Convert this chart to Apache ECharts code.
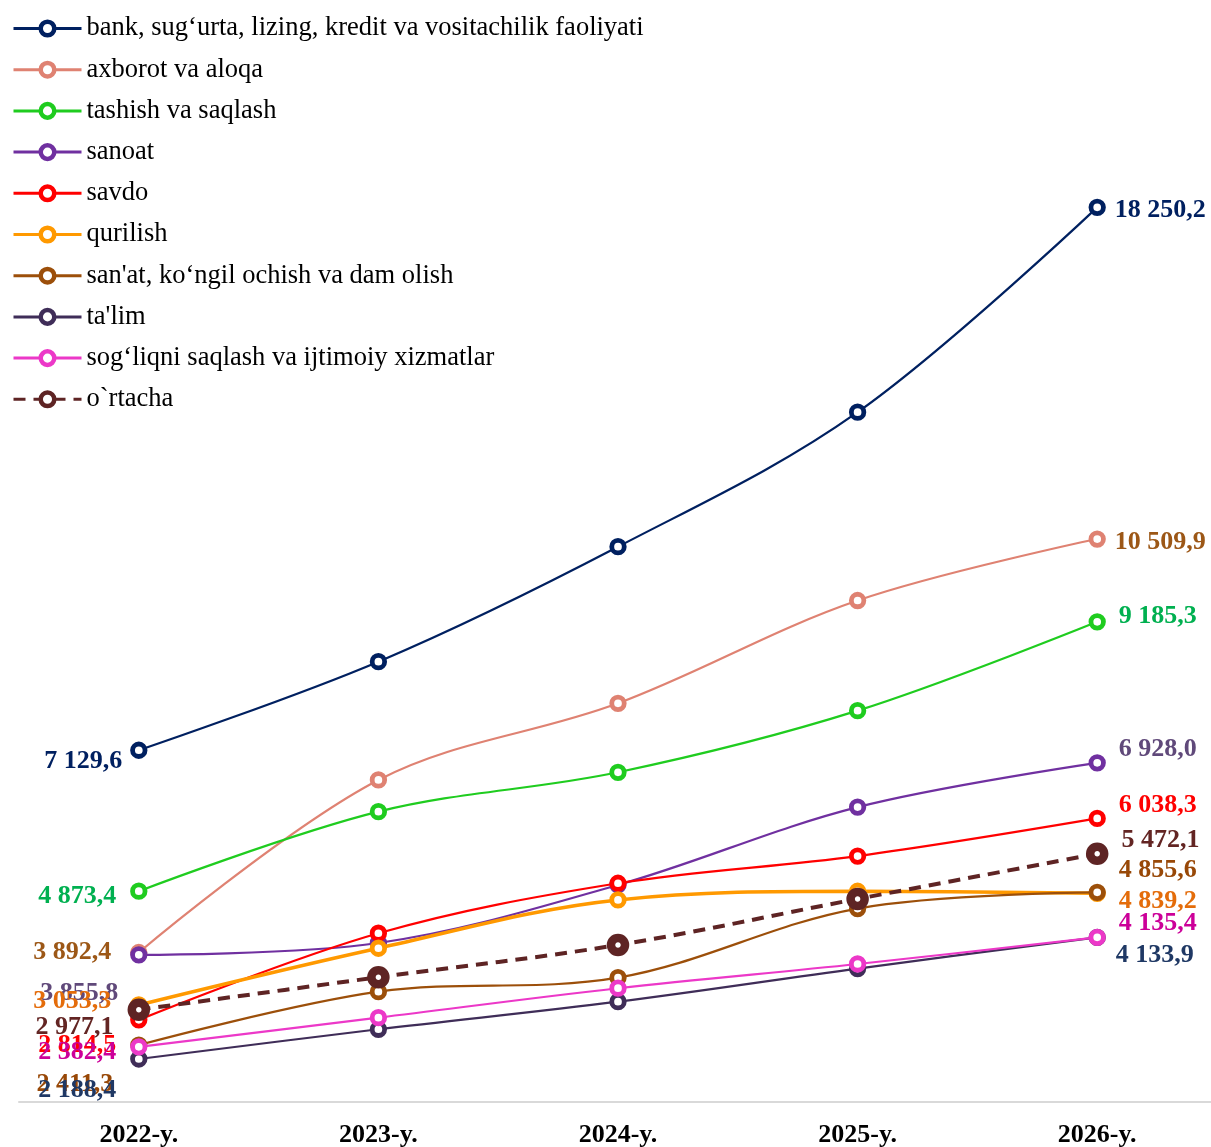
<!DOCTYPE html>
<html>
<head>
<meta charset="utf-8">
<script src="https://cdn.jsdelivr.net/npm/echarts@6/dist/echarts.min.js"></script>
<style>html,body{margin:0;padding:0;background:#fff;}#c{width:1211px;height:1147px;}</style>
</head>
<body>
<div id="c"></div>
<script>
// ---- data ----
const years = ['2022-y.', '2023-y.', '2024-y.', '2025-y.', '2026-y.'];
const seriesNames = [
  'bank, sug‘urta, lizing, kredit va vositachilik faoliyati',
  'axborot va aloqa',
  'tashish va saqlash',
  'sanoat',
  'savdo',
  'qurilish',
  "san'at, ko‘ngil ochish va dam olish",
  "ta'lim",
  'sog‘liqni saqlash va ijtimoiy xizmatlar',
  'o`rtacha'
];
const bank     = [7129.6, 8547, 10387, 12540, 15818];
const axborot  = [3892.4, 6654, 7881, 9526, 10509.9];
const tashish  = [4873.4, 6147, 6777, 7763, 9185.3];
const sanoat   = [3855.8, 4045, 4974, 6220, 6928.0];
const savdo    = [2814.5, 4201, 5001, 5436, 6038.3];
const qurilish = [3053.3, 3961, 4734, 4873, 4839.2];
const sanat    = [2411.3, 3266, 3490, 4596, 4855.6];
const talim    = [2188.4, 2664, 3106, 3636, 4133.9];
const sogliq   = [2382.4, 2850, 3321, 3709, 4135.4];
const ortacha  = [2977.1, 3497, 4013, 4750, 5472.1];
// printed data labels (first and last year), as shown on the chart
const labelsFirst = [7129.6, 3892.4, 4873.4, 3855.8, 2814.5, 3053.3, 2411.3, 2188.4, 2382.4, 2977.1];
const labelsLast  = [18250.2, 10509.9, 9185.3, 6928.0, 6038.3, 4839.2, 4855.6, 4133.9, 4135.4, 5472.1];

// ---- styles ----
const values = [bank, axborot, tashish, sanoat, savdo, qurilish, sanat, talim, sogliq, ortacha];
const lineColors = ['#002060', '#DF8272', '#1FCC1F', '#7030A0', '#FF0000', '#FF9900', '#9C4F0A', '#3F2D58', '#EC38C8', '#5E2424'];
const labelColors = ['#002060', '#9C5716', '#00B050', '#60497A', '#FF0000', '#E46C0A', '#984807', '#1F3864', '#CC0099', '#632523'];
const lineWidths = [2.2, 2.2, 2.2, 2.2, 2.2, 3.5, 2.2, 2.2, 2.2, 4];
const leftOffsets  = [[0, 11], [-11, 0], [-6, 5], [-4, 38], [-6, 25], [-11, -4], [-9, 39], [-6, 31], [-6, 5], [-6, 18]];
const rightOffsets = [[1, 3], [1, 3], [5, -6], [5, -14], [5, -13], [5, 8], [5, -22], [2, 18], [5, -14], [5, -14]];

const FONT = "'Liberation Serif', 'Times New Roman', serif";
function fmt(v) {
  const s = v.toFixed(1).split('.');
  return s[0].replace(/\B(?=(\d{3})+(?!\d))/g, ' ') + ',' + s[1];
}

const series = values.map((vals, i) => {
  const isAvg = i === values.length - 1;
  return {
    name: seriesNames[i],
    type: 'line',
    smooth: 0.35,
    symbol: 'circle',
    symbolSize: isAvg ? 14 : 12.5,
    z: 2 + i,
    lineStyle: { color: lineColors[i], width: lineWidths[i], type: isAvg ? [12, 8] : 'solid' },
    itemStyle: { color: '#ffffff', borderColor: lineColors[i], borderWidth: isAvg ? 8.5 : 4.8 },
    data: vals.map((v, j) => {
      const item = { value: v };
      if (j === 0 || j === vals.length - 1) {
        const first = j === 0;
        item.label = {
          show: true,
          position: first ? 'left' : 'right',
          distance: 8,
          offset: first ? leftOffsets[i] : rightOffsets[i],
          formatter: fmt(first ? labelsFirst[i] : labelsLast[i]),
          color: labelColors[i],
          fontFamily: FONT,
          fontWeight: 'bold',
          fontSize: 26
        };
      }
      return item;
    }),
    emphasis: { disabled: true },
    animation: false
  };
});

const chart = echarts.init(document.getElementById('c'));
chart.setOption({
  backgroundColor: '#ffffff',
  animation: false,
  legend: {
    orient: 'vertical',
    left: 12,
    top: 15,
    padding: 0,
    itemWidth: 68,
    itemHeight: 17,
    itemGap: 14.2,
    selectedMode: false,
    itemStyle: { borderWidth: 4.5 },
    lineStyle: { width: 3 },
    textStyle: { fontFamily: FONT, fontSize: 26.5, color: '#000', lineHeight: 26 },
    data: seriesNames
  },
  grid: { left: 19, width: 1198, top: 196, bottom: 45, outerBoundsMode: 'none', containLabel: false },
  xAxis: {
    type: 'category',
    data: years,
    boundaryGap: true,
    axisLine: { lineStyle: { color: '#D9D9D9', width: 2 } },
    axisTick: { show: false },
    axisLabel: { fontFamily: FONT, fontWeight: 'bold', fontSize: 26, color: '#000', margin: 20 }
  },
  yAxis: {
    type: 'value',
    min: 1500,
    max: 16000,
    show: false,
    splitLine: { show: false }
  },
  series: series
});
</script>
</body>
</html>
